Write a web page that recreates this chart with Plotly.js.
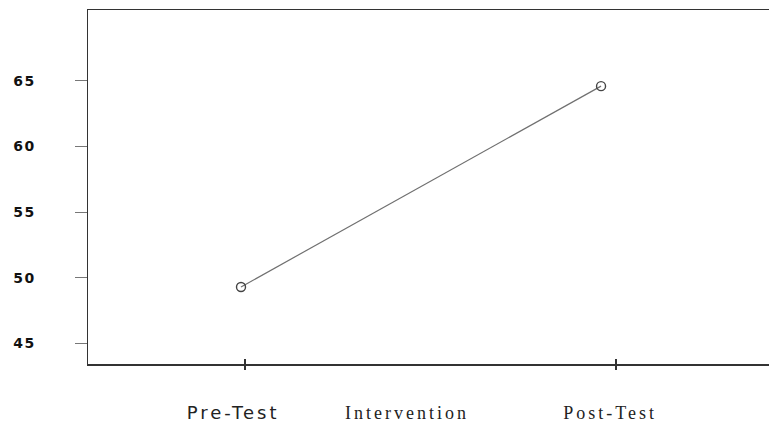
<!DOCTYPE html>
<html>
<head>
<meta charset="utf-8">
<script src="https://cdn.plot.ly/plotly-3.0.1.min.js"></script>
<style>html,body{margin:0;padding:0;background:#fff;}#chart{width:769px;height:422px;}</style>
</head>
<body>
<div id="chart"></div>
<script>
// Data
const categories = ["Pre-Test", "Intervention", "Post-Test"];
const measuredCategories = ["Pre-Test", "Post-Test"];
const meanScores = [49.3, 64.6];
const yTickValues = [45, 50, 55, 60, 65];

// Horizontal placement (index units) of points, tick marks and labels as drawn in the source
const pointPositions = [0, 2];
const tickMarkPositions = [0.022, 2.083];
const labelPositions = [-0.044, 0.922, 2.05];

const xRange = [-0.85, 2.933];
const yRange = [43.43, 70.4];

const labelText = categories.map(c => c === "Pre-Test"
  ? '<span style="font-family:DejaVu Sans;letter-spacing:3px">' + c + '</span>'
  : '<span style="letter-spacing:3px">' + c + '</span>');
const yLabelText = yTickValues.map(v => '<span style="letter-spacing:1.5px">' + v + '</span>');

const trace = {
  x: pointPositions,
  y: meanScores,
  text: measuredCategories,
  type: "scatter",
  mode: "lines+markers",
  line: {color: "#707070", width: 1.2},
  marker: {symbol: "circle-open", size: 9, color: "#444", line: {width: 1.4, color: "#444"}},
  hoverinfo: "text+y",
  xaxis: "x",
  yaxis: "y"
};
// empty helper traces so that the overlay axes (inner tick half, category labels) are drawn
const tickHelper = {x: [], y: [], type: "scatter", mode: "markers", xaxis: "x2", yaxis: "y", hoverinfo: "skip", showlegend: false};
const labelHelper = {x: [], y: [], type: "scatter", mode: "markers", xaxis: "x3", yaxis: "y", hoverinfo: "skip", showlegend: false};

const layout = {
  width: 769,
  height: 422,
  margin: {l: 88, r: 0, t: 10, b: 58},
  paper_bgcolor: "#fff",
  plot_bgcolor: "#fff",
  showlegend: false,
  xaxis: {
    range: xRange,
    showgrid: false,
    zeroline: false,
    showline: true,
    linecolor: "#333",
    linewidth: 1.5,
    mirror: true,
    tickmode: "array",
    tickvals: tickMarkPositions,
    showticklabels: false,
    ticks: "outside",
    ticklen: 4,
    tickwidth: 1.5,
    tickcolor: "#333"
  },
  xaxis2: {
    overlaying: "x",
    anchor: "y",
    side: "bottom",
    range: xRange,
    showgrid: false,
    zeroline: false,
    showline: false,
    tickmode: "array",
    tickvals: tickMarkPositions,
    showticklabels: false,
    ticks: "inside",
    ticklen: 5,
    tickwidth: 1.5,
    tickcolor: "#333"
  },
  xaxis3: {
    overlaying: "x",
    anchor: "y",
    side: "bottom",
    range: xRange,
    showgrid: false,
    zeroline: false,
    showline: false,
    tickmode: "array",
    tickvals: labelPositions,
    ticktext: labelText,
    ticks: "",
    ticklabelstandoff: 36,
    tickfont: {family: "Liberation Serif, Times New Roman, serif", size: 18, color: "#222"}
  },
  yaxis: {
    range: yRange,
    showgrid: false,
    zeroline: false,
    showline: true,
    linecolor: "#333",
    linewidth: 1.5,
    tickmode: "array",
    tickvals: yTickValues,
    ticktext: yLabelText,
    ticks: "outside",
    ticklen: 12,
    tickwidth: 1.2,
    tickcolor: "#777",
    ticklabelstandoff: 36,
    tickfont: {family: "DejaVu Sans, Verdana, sans-serif", size: 14, color: "#111", weight: "bold"}
  }
};

Plotly.newPlot("chart", [trace, tickHelper, labelHelper], layout, {displayModeBar: false, staticPlot: true});
</script>
</body>
</html>
